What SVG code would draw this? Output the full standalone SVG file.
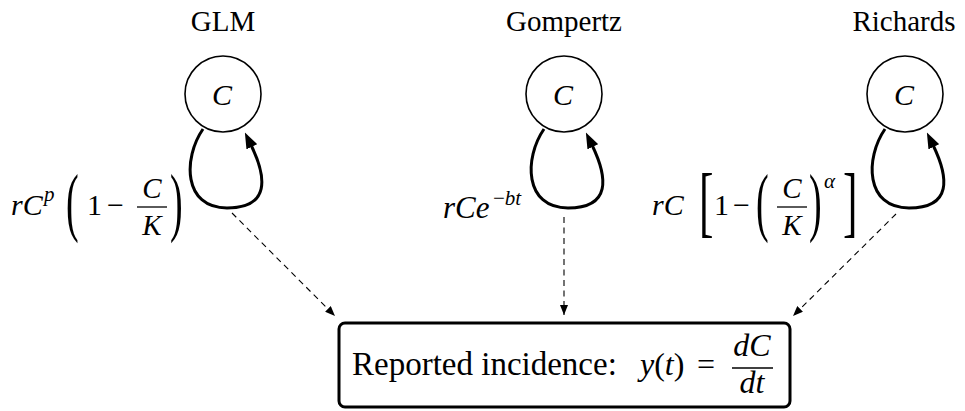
<svg xmlns="http://www.w3.org/2000/svg" width="965" height="411" viewBox="0 0 965 411">
<defs>
<marker id="bigArrow" markerUnits="userSpaceOnUse" viewBox="0 0 16 12" markerWidth="16" markerHeight="12" refX="2" refY="6" orient="auto"><path d="M0,0 L16,6 L0,12 z" fill="#000"/></marker>
<marker id="smallArrow" markerUnits="userSpaceOnUse" viewBox="0 0 10 8" markerWidth="10" markerHeight="8" refX="10" refY="4" orient="auto"><path d="M0,0 L10,4 L0,8 z" fill="#000"/></marker>
</defs>
<style>
.title{font-size:29px;text-anchor:middle}
.m{font-style:italic}
.mid{text-anchor:middle}
.node{fill:#fff;stroke:#000;stroke-width:1.6}
.loop{fill:none;stroke:#000;stroke-width:3;marker-end:url(#bigArrow)}
.dash{fill:none;stroke:#000;stroke-width:1.1;stroke-dasharray:6 4.5;marker-end:url(#smallArrow)}
.bar{stroke:#000;stroke-width:1.3}
.box{fill:#fff;stroke:#000;stroke-width:3}
</style>
<g font-family="'Liberation Serif', 'DejaVu Serif', serif" fill="#000">
<g id="connectors">
<path class="loop" d="M203 129 C183 158,183 208,227 208 C270 208,267 178,251 145"/>
<path class="loop" d="M544 129 C524 158,524 208,568 208 C611 208,608 178,592 145"/>
<path class="loop" d="M885 129 C865 158,865 208,909 208 C952 208,949 178,933 145"/>
<path class="dash" d="M232 213 L335 316"/>
<path class="dash" d="M564 217 L564 315"/>
<path class="dash" d="M896 214 L793 316"/>
</g>
<g id="glm">
<text class="title" x="223" y="31">GLM</text>
<circle class="node" cx="223" cy="94" r="38"/>
<text class="m mid" x="222" y="105" font-size="30">C</text>
</g>
<g id="gompertz">
<text class="title" x="564" y="31">Gompertz</text>
<circle class="node" cx="564" cy="94" r="38"/>
<text class="m mid" x="563" y="105" font-size="30">C</text>
</g>
<g id="richards">
<text class="title" x="904" y="31">Richards</text>
<circle class="node" cx="905" cy="94" r="38"/>
<text class="m mid" x="904" y="105" font-size="30">C</text>
</g>
<g id="label-glm">
<text class="m" x="11" y="215" font-size="30">rC</text>
<text class="m" x="44" y="201" font-size="21">p</text>
<text transform="translate(66,226.5) scale(0.5,1)" font-size="76">(</text>
<text x="87" y="215" font-size="30">1</text>
<text x="107" y="215" font-size="30">−</text>
<text class="m mid" x="152" y="198" font-size="29">C</text>
<line class="bar" x1="137" y1="207" x2="167" y2="207"/>
<text class="m mid" x="152" y="235" font-size="29">K</text>
<text transform="translate(170,226.5) scale(0.5,1)" font-size="76">)</text>
</g>
<g id="label-gompertz">
<text class="m" x="443" y="218" font-size="31">rCe</text>
<text x="493" y="205" font-size="21">−<tspan class="m">bt</tspan></text>
</g>
<g id="label-richards">
<text class="m" x="652" y="215" font-size="30">rC</text>
<text transform="translate(699,227.5) scale(0.55,1)" font-size="79">[</text>
<text x="714" y="215" font-size="30">1</text>
<text x="733" y="215" font-size="30">−</text>
<text transform="translate(756,226.5) scale(0.5,1)" font-size="76">(</text>
<text class="m mid" x="792" y="198" font-size="29">C</text>
<line class="bar" x1="777" y1="207" x2="807" y2="207"/>
<text class="m mid" x="792" y="235" font-size="29">K</text>
<text transform="translate(809,226.5) scale(0.5,1)" font-size="76">)</text>
<text class="m" x="824" y="188" font-size="21">α</text>
<text transform="translate(843,227.5) scale(0.55,1)" font-size="79">]</text>
</g>
<g id="incidence">
<rect class="box" x="339" y="323" width="451" height="84" rx="6"/>
<text x="352" y="375" font-size="33">Reported incidence:</text>
<text x="640" y="375" font-size="32"><tspan class="m">y</tspan>(<tspan class="m">t</tspan>)</text>
<text x="697" y="375" font-size="32">=</text>
<text class="m mid" x="752" y="356" font-size="32">dC</text>
<line class="bar" x1="732" y1="368" x2="773" y2="368"/>
<text class="m mid" x="752" y="393" font-size="32">dt</text>
</g>
</g>
</svg>
